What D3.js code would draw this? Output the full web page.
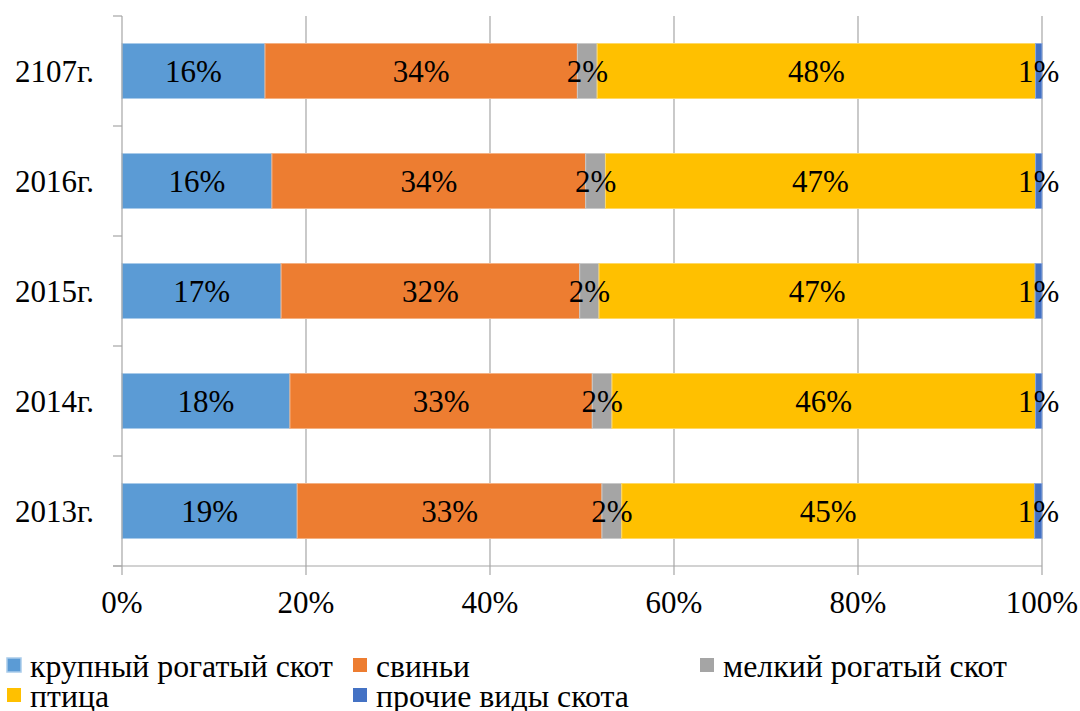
<!DOCTYPE html>
<html><head><meta charset="utf-8">
<script src="https://cdn.jsdelivr.net/npm/d3@7/dist/d3.min.js"></script>
</head><body style="margin:0">
<svg id="c" width="1080" height="711" style="display:block;font-family:'Times New Roman','Liberation Serif',Tinos,serif"></svg>
<script>
const categories = ["2107г.", "2016г.", "2015г.", "2014г.", "2013г."];
const seriesNames = ["крупный рогатый скот", "свиньи", "мелкий рогатый скот", "птица", "прочие виды скота"];
const cattle  = [15.55, 16.3, 17.3, 18.26, 19.05];
const pigs    = [33.95, 34.1, 32.45, 32.86, 33.12];
const sheep   = [2.15, 2.15, 2.1, 2.14, 2.15];
const poultry = [47.65, 46.75, 47.4, 46.04, 44.88];
const other   = [0.7, 0.7, 0.75, 0.7, 0.8];
const xTicks = [0, 0.2, 0.4, 0.6, 0.8, 1];
const colors = ["#5B9BD5", "#ED7D31", "#A5A5A5", "#FFC000", "#4472C4"];
const strokes = ["#A9CBEA", "#F4B183", "#C9C9C9", "#FFD966", "#8FAADC"];
const FONT = "'Times New Roman', 'Liberation Serif', Tinos, serif";
const FS = 31;

const series = [cattle, pigs, sheep, poultry, other];
const rows = categories.map((c, i) => {
  const o = {cat: c};
  seriesNames.forEach((s, j) => o[s] = series[j][i] / 100);
  return o;
});
const stacked = d3.stack().keys(seriesNames)(rows);

const svg = d3.select("#c");
const x = d3.scaleLinear().domain([0, 1]).range([122, 1042]);
const y = d3.scaleBand().domain(categories).range([16, 566]).paddingInner(0.5).paddingOuter(0.25);

svg.append("g").selectAll("line").data(xTicks.slice(1)).join("line")
  .attr("x1", d => x(d)).attr("x2", d => x(d)).attr("y1", 16).attr("y2", 566)
  .attr("stroke", "#A6A6A6").attr("stroke-width", 1.2);

const g = svg.append("g");
stacked.forEach((s, j) => {
  g.append("g").selectAll("rect").data(s).join("rect")
    .attr("x", d => x(d[0])).attr("width", d => x(d[1]) - x(d[0]))
    .attr("y", d => y(d.data.cat)).attr("height", y.bandwidth())
    .attr("fill", colors[j]).attr("stroke", strokes[j]).attr("stroke-width", 1);
});

const yAxis = svg.append("g").attr("transform", "translate(122,0)");
yAxis.append("line").attr("x1", 0).attr("x2", 0).attr("y1", 16).attr("y2", 566).attr("stroke", "#A6A6A6").attr("stroke-width", 1.2);
const step = y.step();
const bounds = d3.range(categories.length + 1).map(i => 16 + i * step);
yAxis.selectAll("line.t").data(bounds).join("line").attr("class", "t")
  .attr("x1", -9).attr("x2", 0).attr("y1", d => d).attr("y2", d => d)
  .attr("stroke", "#A6A6A6").attr("stroke-width", 1.2);
svg.append("g").selectAll("text").data(categories).join("text")
  .attr("x", 94).attr("y", d => y(d) + y.bandwidth() / 2 + 11)
  .attr("text-anchor", "end").attr("font-family", FONT).attr("font-size", FS).text(d => d);

const xg = svg.append("g");
xg.append("line").attr("x1", 113).attr("x2", 1042).attr("y1", 566).attr("y2", 566).attr("stroke", "#A6A6A6").attr("stroke-width", 1.2);
xg.selectAll("line.t").data(xTicks).join("line").attr("class", "t")
  .attr("x1", d => x(d)).attr("x2", d => x(d)).attr("y1", 566).attr("y2", 575)
  .attr("stroke", "#A6A6A6").attr("stroke-width", 1.2);
xg.selectAll("text").data(xTicks).join("text")
  .attr("x", d => x(d)).attr("y", 613).attr("text-anchor", "middle")
  .attr("font-family", FONT).attr("font-size", FS)
  .text(d => d3.format(".0%")(d));

stacked.forEach((s, j) => {
  svg.append("g").selectAll("text").data(s).join("text")
    .attr("x", d => (x(d[0]) + x(d[1])) / 2)
    .attr("y", d => y(d.data.cat) + y.bandwidth() / 2 + 11)
    .attr("text-anchor", "middle").attr("font-family", FONT).attr("font-size", FS)
    .text(d => Math.round((d[1] - d[0]) * 100) + "%");
});

const legendPos = [[7, 658], [353, 658], [700, 658], [7, 688], [353, 688]];
const legendWidths = [303, 94, 284, 79, 253];
const lg = svg.append("g");
seriesNames.forEach((s, j) => {
  const [lx, ly] = legendPos[j];
  lg.append("rect").attr("x", lx).attr("y", ly).attr("width", 14).attr("height", 14)
    .attr("fill", colors[j]).attr("stroke", j === 0 ? strokes[0] : "none").attr("stroke-width", 1.5);
  lg.append("text").attr("x", lx + 23).attr("y", ly + 19)
    .attr("font-family", FONT).attr("font-size", FS)
    .attr("textLength", legendWidths[j]).attr("lengthAdjust", "spacingAndGlyphs").text(s);
});
</script>
</body></html>
